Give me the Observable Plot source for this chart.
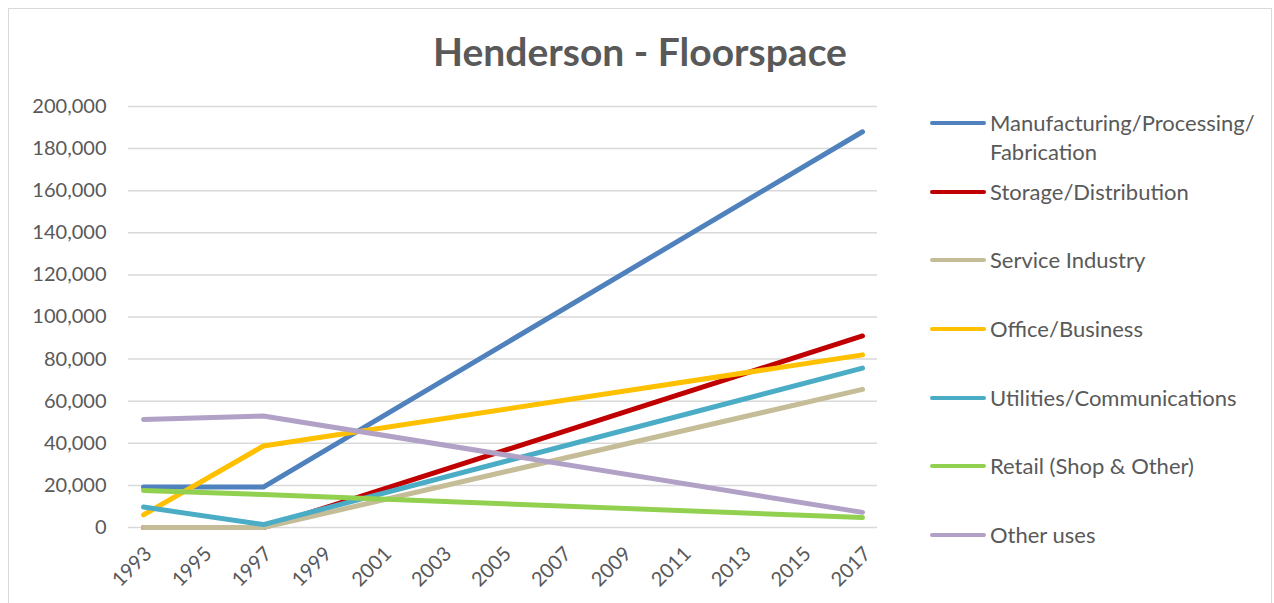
<!DOCTYPE html>
<html>
<head>
<meta charset="utf-8">
<script src="https://cdn.jsdelivr.net/npm/d3@7"></script>
<script src="https://cdn.jsdelivr.net/npm/@observablehq/plot@0.6"></script>
<style>
  html, body { margin: 0; padding: 0; background: #fff; overflow: hidden; }
  #page { position: relative; width: 1274px; height: 603px; overflow: hidden; font-family: Lato, "Open Sans", sans-serif; color: #595959; }
  #frame { position: absolute; left: 8px; top: 8px; width: 1264px; height: 640px; border: 1px solid #d9d9d9; box-sizing: border-box; }
  #title { position: absolute; left: 0; top: 28px; width: 1280px; text-align: center; font-size: 39px; font-weight: 700; color: #595959; }
  #chart { position: absolute; left: 0; top: 0; }
  #legend { position: absolute; left: 930px; top: 108px; }
  .item { position: relative; height: 68.7px; }
  .swatch { position: absolute; left: 0; top: 13px; width: 56px; height: 4px; border-radius: 2px; }
  .label { position: absolute; left: 60px; top: 0; font-size: 22px; line-height: 29px; white-space: nowrap; }
</style>
</head>
<body>
<div id="page">
  <div id="frame"></div>
  <div id="title">Henderson - Floorspace</div>
  <div id="chart"></div>
  <div id="legend"></div>
</div>
<script>
// Floorspace by land use, Henderson (sq. ft) at the survey years
const years = [1993, 1997, 2017];
const manufacturing = [19200, 19200, 188000];
const storage = [0, 0, 91000];
const service = [0, 0, 65600];
const office = [6000, 38700, 82000];
const utilities = [9700, 1400, 75700];
const retail = [17600, 15700, 4700];
const otherUses = [51300, 53000, 7200];

const seriesNames = [
  "Manufacturing/Processing/\nFabrication",
  "Storage/Distribution",
  "Service Industry",
  "Office/Business",
  "Utilities/Communications",
  "Retail (Shop & Other)",
  "Other uses"
];
const seriesValues = [manufacturing, storage, service, office, utilities, retail, otherUses];
const seriesColors = ["#4f81bd", "#c00000", "#c4bd97", "#ffc000", "#4bacc6", "#92d050", "#b2a1c7"];

const xTicks = d3.range(1993, 2018, 2);
const yTicks = d3.range(0, 200001, 20000);

// long-format rows for the line mark
const rows = seriesNames.flatMap((name, i) =>
  years.map((year, j) => ({ series: name, year, value: seriesValues[i][j] }))
);

const chart = Plot.plot({
  width: 900,
  height: 603,
  marginTop: 106,
  marginBottom: 76,
  marginLeft: 128,
  marginRight: 23,
  style: { fontFamily: "Lato, 'Open Sans', sans-serif", fontSize: "20px", color: "#595959", background: "transparent" },
  x: { domain: [1993, 2017], insetLeft: 15, insetRight: 15 },
  y: { domain: [0, 200000] },
  color: { domain: seriesNames, range: seriesColors },
  marks: [
    Plot.gridY(yTicks, { stroke: "#d9d9d9", strokeOpacity: 1, strokeWidth: 1.5 }),
    Plot.axisY(yTicks, { tickFormat: d3.format(","), tickSize: 0, tickPadding: 22, label: null }),
    Plot.axisX(xTicks, { tickFormat: d => String(d), tickSize: 0, tickPadding: 21, tickRotate: -45, dx: 5, dy: 2, label: null }),
    Plot.line(rows, {
      x: "year", y: "value", z: "series", stroke: "series",
      strokeWidth: 5, strokeLinecap: "round", strokeLinejoin: "round"
    })
  ]
});
document.getElementById("chart").appendChild(chart);

// legend
const legend = d3.select("#legend");
seriesNames.forEach((name, i) => {
  const item = legend.append("div").attr("class", "item");
  item.append("div").attr("class", "swatch").style("background", seriesColors[i]);
  const label = item.append("div").attr("class", "label");
  name.split("\n").forEach(line => label.append("div").text(line));
});
</script>
</body>
</html>
